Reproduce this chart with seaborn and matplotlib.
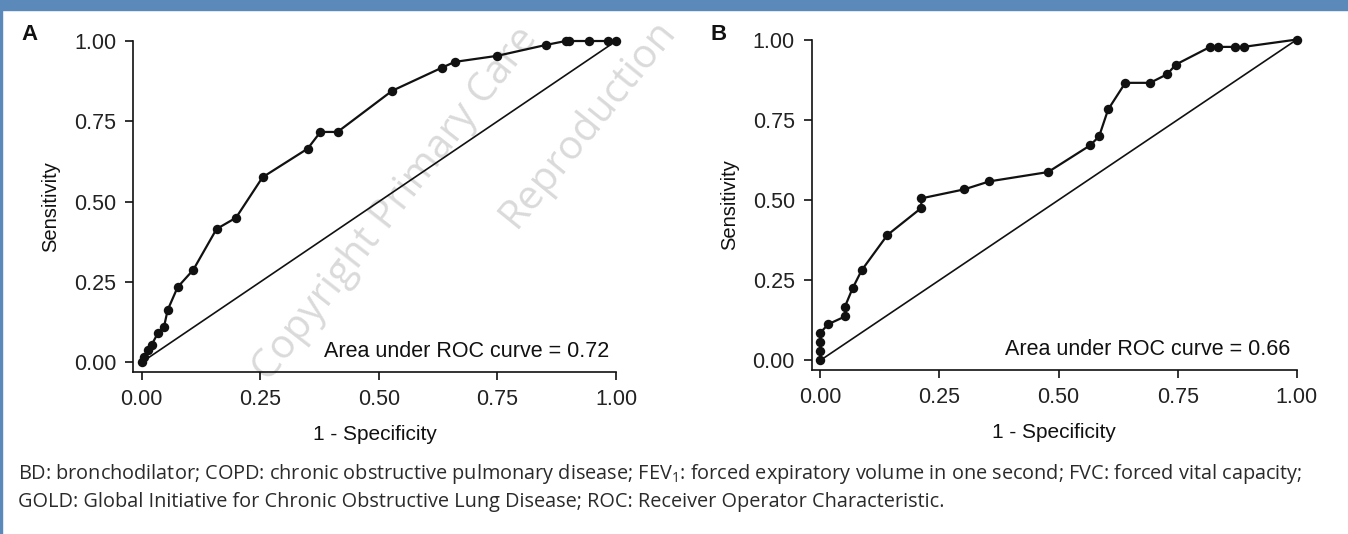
import matplotlib
matplotlib.use("Agg")
import matplotlib.pyplot as plt
import seaborn as sns
import pandas as pd
from matplotlib.patches import Rectangle

# ROC points (1 - specificity, sensitivity)
fpr_a = [0.0, 0.005, 0.014, 0.021, 0.034, 0.047, 0.055, 0.076, 0.109, 0.158, 0.199,
         0.255, 0.350, 0.377, 0.413, 0.528, 0.633, 0.660, 0.750, 0.853, 0.894,
         0.900, 0.942, 0.984, 1.0]
tpr_a = [0.0, 0.017, 0.037, 0.054, 0.090, 0.109, 0.163, 0.234, 0.288, 0.415, 0.450,
         0.576, 0.665, 0.717, 0.717, 0.845, 0.917, 0.935, 0.954, 0.988, 1.0,
         1.0, 1.0, 1.0, 1.0]
fpr_b = [0.0, 0.0, 0.0, 0.0, 0.017, 0.052, 0.052, 0.068, 0.087, 0.141, 0.212,
         0.212, 0.302, 0.355, 0.478, 0.566, 0.585, 0.604, 0.640, 0.692, 0.728,
         0.746, 0.818, 0.835, 0.871, 0.888, 1.0]
tpr_b = [0.0, 0.028, 0.058, 0.086, 0.113, 0.137, 0.168, 0.225, 0.281, 0.391, 0.475,
         0.505, 0.533, 0.558, 0.587, 0.670, 0.698, 0.782, 0.865, 0.865, 0.892,
         0.922, 0.977, 0.977, 0.977, 0.977, 1.0]
auc_a = 0.72
auc_b = 0.66
ticks = [0.0, 0.25, 0.5, 0.75, 1.0]
tick_labels = ["0.00", "0.25", "0.50", "0.75", "1.00"]
caption = ("BD: bronchodilator; COPD: chronic obstructive pulmonary disease; FEV$_1$: forced expiratory volume in one second; FVC: forced vital capacity;\n"
           "GOLD: Global Initiative for Chronic Obstructive Lung Disease; ROC: Receiver Operator Characteristic.")

sns.set_style("ticks")
plt.rcParams['font.family'] = ['Liberation Sans', 'DejaVu Sans']
plt.rcParams['mathtext.fontset'] = 'custom'
plt.rcParams['mathtext.rm'] = 'Open Sans'

fig = plt.figure(figsize=(13.48, 5.34), dpi=100)

# blue frame of the journal figure
fig.patches.append(Rectangle((0, 0.981), 1, 0.019, transform=fig.transFigure, color='#5a89ba', zorder=5))
fig.patches.append(Rectangle((0, 0), 0.0018, 1, transform=fig.transFigure, color='#5a89ba', zorder=5))

# watermark
wm = dict(color='#dadada', fontsize=29, family=['Open Sans', 'DejaVu Sans'], zorder=-1,
          ha='left', va='baseline', rotation_mode='anchor')
fig.text(0.200, 0.283, "Copyright Primary Care", rotation=52, **wm)
fig.text(0.382, 0.569, "Reproduction", rotation=51, **wm)

ax_a = fig.add_axes([0.0987, 0.3034, 0.3583, 0.6198])
ax_b = fig.add_axes([0.6021, 0.307, 0.360, 0.619])

panels = [(ax_a, fpr_a, tpr_a, auc_a, "A", 0.016), (ax_b, fpr_b, tpr_b, auc_b, "B", 0.527)]
for ax, fpr, tpr, auc, letter, lx in panels:
    ax.set_facecolor('none')
    df = pd.DataFrame({'fpr': fpr, 'tpr': tpr})
    sns.lineplot(x=[0, 1], y=[0, 1], ax=ax, color='#111111', lw=1.2)
    sns.lineplot(data=df, x='fpr', y='tpr', ax=ax, sort=False, estimator=None, color='#111111',
                 lw=1.6, marker='o', markersize=6.8, markeredgewidth=0, clip_on=False)
    ax.set_xlim(-0.018, 1.0)
    ax.set_ylim(-0.03, 1.0)
    ax.set_xticks(ticks)
    ax.set_xticklabels(tick_labels)
    ax.set_yticks(ticks)
    ax.set_yticklabels(tick_labels)
    ax.tick_params(labelsize=15.5, length=6, width=1.2, colors='#111111', labelcolor='#222222', pad=6)
    for s in ['left', 'bottom']:
        ax.spines[s].set_linewidth(1.2)
        ax.spines[s].set_color('#111111')
    sns.despine(ax=ax)
    ax.set_xlabel("1 - Specificity", fontsize=15, color='#111111', labelpad=11)
    ax.set_ylabel("Sensitivity", fontsize=14.5, color='#111111', labelpad=10)
    ax.text(0.985, 0.035, "Area under ROC curve = %.2f" % auc, ha='right', va='center',
            fontsize=15.5, color='#111111')
    fig.text(lx, 0.935, letter, fontsize=16, fontweight='bold', color='#111111', va='center')

fig.text(0.0135, 0.088, caption, fontsize=14.3, family=['Open Sans', 'DejaVu Sans'], color='#2a2a2a',
         va='center', linespacing=1.4)

fig.savefig("out.png", dpi=100)
